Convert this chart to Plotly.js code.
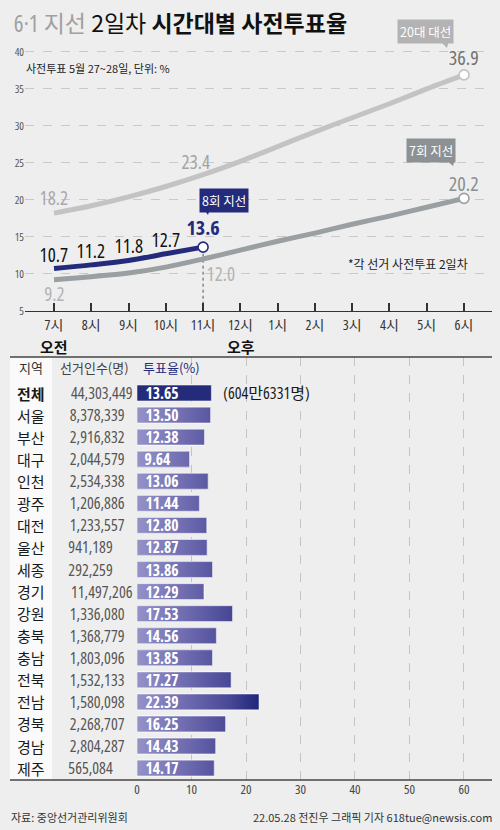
<!DOCTYPE html>
<html><head><meta charset="utf-8">
<script src="https://cdn.plot.ly/plotly-3.0.1.min.js"></script>
<style>html,body{margin:0;padding:0;background:#eeeeee;}#chart{width:500px;height:830px;}
#chart text{font-stretch:condensed;}</style>
</head><body><div id="chart"></div>
<script>
// ---------- DATA ----------
const hours = ['7시','8시','9시','10시','11시','12시','1시','2시','3시','4시','5시','6시'];
const pres20 = [18.2,19.2,20.4,21.8,23.4,25.2,27.2,29.2,31.1,33.0,35.0,36.9];
const local7 = [9.2,9.6,10.1,10.9,12.0,13.2,14.4,15.5,16.7,17.8,19.0,20.2];
const local8 = [10.7,11.2,11.8,12.7,13.6];
const seriesNames = ['20대 대선','7회 지선','8회 지선'];
const yTicks = [5,10,15,20,25,30,35,40];

const regions = ['전체','서울','부산','대구','인천','광주','대전','울산','세종','경기','강원','충북','충남','전북','전남','경북','경남','제주'];
const electors = ['44,303,449','8,378,339','2,916,832','2,044,579','2,534,338','1,206,886','1,233,557','941,189','292,259','11,497,206','1,336,080','1,368,779','1,803,096','1,532,133','1,580,098','2,268,707','2,804,287','565,084'];
const turnout = [13.65,13.50,12.38,9.64,13.06,11.44,12.80,12.87,13.86,12.29,17.53,14.56,13.85,17.27,22.39,16.25,14.43,14.17];
const totalVoters = '(604만6331명)';
const barTicks = [0,10,20,30,40,50,60];

// ---------- STYLE ----------
const W = 500, H = 830;
const px = x => x / W, py = y => 1 - y / H;
const CJK = 'Noto Sans CJK KR, Noto Sans, sans-serif';
const NARROW = 'Open Sans, Noto Sans CJK KR, sans-serif';
const C_LIGHT = '#c3c3c3', C_GRAY = '#9a9fa1', C_NAVY = '#242b7b';
const BAR_HALF = 0.36;

const traces = [];
function addLine(vals, color, name) {
  traces.push({x: vals.map((_, i) => i), y: vals, mode: 'lines', name,
    line: {color, width: 5, shape: 'spline', smoothing: 0.9},
    hoverinfo: 'skip', xaxis: 'x', yaxis: 'y', showlegend: false});
  const n = vals.length - 1;
  traces.push({x: [n], y: [vals[n]], mode: 'markers', hoverinfo: 'skip',
    marker: {size: 10, color: '#ffffff', line: {color, width: 1.6}},
    xaxis: 'x', yaxis: 'y', showlegend: false});
}
addLine(pres20, C_LIGHT, seriesNames[0]);
addLine(local7, C_GRAY, seriesNames[1]);
addLine(local8, C_NAVY, seriesNames[2]);

// base bars (solid)
traces.push({type: 'bar', orientation: 'h', x: turnout, y: regions.map((_, i) => i),
  width: BAR_HALF * 2,
  marker: {color: turnout.map((_, i) => i === 0 ? C_NAVY : '#6966ac'),
           line: {color: 'rgba(255,255,255,0.5)', width: 1}},
  hoverinfo: 'skip', xaxis: 'x2', yaxis: 'y2', showlegend: false});
// gradient overlay (regions except total)
turnout.forEach((v, i) => {
  if (i === 0) return;
  traces.push({x: [0, v, v, 0, 0], y: [i - BAR_HALF, i - BAR_HALF, i + BAR_HALF, i + BAR_HALF, i - BAR_HALF],
    mode: 'lines', fill: 'toself',
    fillgradient: {type: 'horizontal', start: 0, stop: 22.4,
      colorscale: [[0, '#9592c8'], [0.45, '#6966ac'], [0.75, '#4a4997'], [1, '#1f2679']]},
    line: {color: 'rgba(255,255,255,0.55)', width: 1},
    hoverinfo: 'skip', xaxis: 'x2', yaxis: 'y2', showlegend: false});
});

// ---------- ANNOTATIONS ----------
const ann = [];
function lab(i, v, color, dy, dx, size, bold) {
  ann.push({xref: 'x', yref: 'y', x: i, y: v, text: bold ? '<b>' + v.toFixed(1) + '</b>' : v.toFixed(1),
    showarrow: false, yshift: dy, xshift: dx, font: {family: NARROW, size, color}});
}
lab(0, pres20[0], '#a9a9a9', 15, 0, 19);
lab(4, pres20[4], '#a3a3a3', 13, -7, 19);
lab(11, pres20[11], '#737373', 17, 0, 20);
lab(0, local7[0], '#b3b3b3', -14, 0, 19);
lab(4, local7[4], '#b3b3b3', -15, 18, 19);
lab(11, local7[11], '#8a8f91', 15, 0, 20);
local8.forEach((v, i) => {
  if (i < local8.length - 1) lab(i, v, '#111111', 14, 0, 19);
  else lab(i, v, C_NAVY, 20, 0, 20, true);
});

// bar value labels
turnout.forEach((v, i) => {
  ann.push({xref: 'x2', yref: 'y2', x: 0, y: i, xanchor: 'left', yanchor: 'middle', xshift: 3, showarrow: false,
    text: '<b>' + v.toFixed(2) + '</b>', font: {family: NARROW, size: 15.5, color: '#ffffff'}});
});

// title, subtitle, notes
ann.push({xref: 'paper', yref: 'paper', x: px(8), y: py(22), xanchor: 'left', yanchor: 'middle', showarrow: false,
  text: '<span style="color:#a0a0a0"><span style="font-family:Open Sans">6·1</span> 지선</span> 2일차 <b>시간대별 사전투표율</b>',
  font: {family: CJK, size: 23, color: '#111111'}});
ann.push({xref: 'paper', yref: 'paper', x: px(24), y: py(68), xanchor: 'left', yanchor: 'middle', showarrow: false,
  text: '사전투표 5월 27~28일, 단위: %', font: {family: CJK, size: 11, color: '#222'}});
ann.push({xref: 'paper', yref: 'paper', x: px(408), y: py(263), xanchor: 'center', yanchor: 'middle', showarrow: false,
  text: '*각 선거 사전투표 2일차', font: {family: CJK, size: 12, color: '#222'}});
ann.push({xref: 'paper', yref: 'paper', x: px(54), y: py(346), xanchor: 'center', yanchor: 'middle', showarrow: false,
  text: '<b>오전</b>', font: {family: CJK, size: 15, color: '#111'}});
ann.push({xref: 'paper', yref: 'paper', x: px(241), y: py(346), xanchor: 'center', yanchor: 'middle', showarrow: false,
  text: '<b>오후</b>', font: {family: CJK, size: 15, color: '#111'}});
// callouts
function callout(cx, cy, text, bg) {
  ann.push({xref: 'paper', yref: 'paper', x: px(cx), y: py(cy), xanchor: 'center', yanchor: 'middle', showarrow: false,
    text, bgcolor: bg, borderpad: 2, font: {family: CJK, size: 12.5, color: '#ffffff'}});
}
callout(425, 32, seriesNames[0], '#b3b3b3');
callout(431, 151, seriesNames[1], '#8c9294');
callout(224, 200, seriesNames[2], C_NAVY);

// table header
ann.push({xref: 'paper', yref: 'paper', x: px(31), y: py(368), xanchor: 'center', yanchor: 'middle', showarrow: false,
  text: '지역', font: {family: CJK, size: 13, color: '#333'}});
ann.push({xref: 'paper', yref: 'paper', x: px(94), y: py(368), xanchor: 'center', yanchor: 'middle', showarrow: false,
  text: '선거인수(명)', font: {family: CJK, size: 13, color: '#444'}});
ann.push({xref: 'paper', yref: 'paper', x: px(141), y: py(368), xanchor: 'left', yanchor: 'middle', showarrow: false,
  text: '투표율(%)', font: {family: CJK, size: 13, color: C_NAVY}});
// table rows
regions.forEach((r, i) => {
  ann.push({xref: 'paper', yref: 'y2', x: px(31), y: i, xanchor: 'center', yanchor: 'middle', showarrow: false,
    text: i === 0 ? '<b>' + r + '</b>' : r, font: {family: CJK, size: 15, color: '#1a1a1a'}});
  ann.push({xref: 'paper', yref: 'y2', x: px(59), y: i, xanchor: 'left', yanchor: 'middle', showarrow: false,
    text: electors[i], font: {family: NARROW, size: 16, color: '#555'}});
});
ann.push({xref: 'x2', yref: 'y2', x: turnout[0], y: 0, xanchor: 'left', yanchor: 'middle', xshift: 2, showarrow: false,
  text: totalVoters, font: {family: NARROW, size: 16, color: '#1a1a1a'}});
// footer
ann.push({xref: 'paper', yref: 'paper', x: px(9), y: py(817), xanchor: 'left', yanchor: 'middle', showarrow: false,
  text: '자료: 중앙선거관리위원회', font: {family: CJK, size: 11, color: '#333'}});
ann.push({xref: 'paper', yref: 'paper', x: px(494), y: py(817), xanchor: 'right', yanchor: 'middle', showarrow: false,
  text: '22.05.28 전진우 그래픽 기자 618tue@newsis.com', font: {family: CJK, size: 11, color: '#333'}});

// ---------- SHAPES ----------
function tri(x0, y0, x1, y1) {
  return 'M' + px(x0) + ',' + py(y0) + ' L' + px(x1 + 2) + ',' + py(y0) + ' L' + px(x1) + ',' + py(y1) + ' Z';
}
const shapes = [
  {type: 'rect', xref: 'paper', yref: 'paper', x0: px(10), x1: px(52), y0: py(780), y1: py(357),
   fillcolor: '#fafafa', line: {width: 0}, layer: 'below'},
  {type: 'line', xref: 'paper', yref: 'paper', x0: px(10), x1: px(492), y0: py(357), y1: py(357), line: {color: '#444', width: 1.3}},
  {type: 'line', xref: 'paper', yref: 'paper', x0: px(10), x1: px(492), y0: py(780), y1: py(780), line: {color: '#444', width: 1.3}},
  {type: 'line', xref: 'x', yref: 'y', x0: local8.length - 1, x1: local8.length - 1, y0: 5, y1: local8[local8.length - 1],
   line: {color: '#555', width: 1, dash: 'dot'}, layer: 'below'},
  {type: 'path', xref: 'paper', yref: 'paper', path: tri(439, 40, 447, 48), fillcolor: '#b3b3b3', line: {width: 0}},
  {type: 'path', xref: 'paper', yref: 'paper', path: tri(445, 159, 453, 166), fillcolor: '#8c9294', line: {width: 0}},
  {type: 'path', xref: 'paper', yref: 'paper', path: tri(203, 208, 208, 215), fillcolor: C_NAVY, line: {width: 0}},
];

const layout = {
  width: W, height: H, margin: {l: 0, r: 0, t: 0, b: 0},
  paper_bgcolor: '#eeeeee', plot_bgcolor: 'rgba(0,0,0,0)',
  font: {family: CJK, color: '#333'},
  showlegend: false,
  xaxis: {domain: [px(25), px(492)], range: [-0.778, 11.751], tickvals: hours.map((_, i) => i), ticktext: hours,
    ticks: 'inside', ticklen: 8, tickwidth: 2, tickcolor: '#333', showline: true, linecolor: '#333', linewidth: 1.5,
    showgrid: false, zeroline: false, ticklabelstandoff: 1,
    tickfont: {family: NARROW, size: 14, color: '#333'}, anchor: 'y', fixedrange: true},
  yaxis: {domain: [py(310.7), py(44)], range: [5, 41.08], tickvals: yTicks, showgrid: true, gridcolor: '#c9c9c9',
    griddash: 'dash', gridwidth: 1, zeroline: false, showline: false, ticks: '',
    tickfont: {family: NARROW, size: 11, color: '#555'}, anchor: 'x', fixedrange: true},
  xaxis2: {domain: [px(137), px(492)], range: [0, 65.14], tickvals: barTicks, showgrid: true, gridcolor: '#c4c4c4',
    griddash: 'dash', zeroline: false, showline: false, ticks: '',
    tickfont: {family: NARROW, size: 13, color: '#444'}, anchor: 'y2', fixedrange: true},
  yaxis2: {domain: [py(780), py(357)], range: [17.54, -1.632], showgrid: false, showticklabels: false,
    zeroline: false, showline: false, anchor: 'x2', fixedrange: true},
  annotations: ann, shapes: shapes,
};
Plotly.newPlot('chart', traces, layout, {staticPlot: true, displayModeBar: false});
</script></body></html>
